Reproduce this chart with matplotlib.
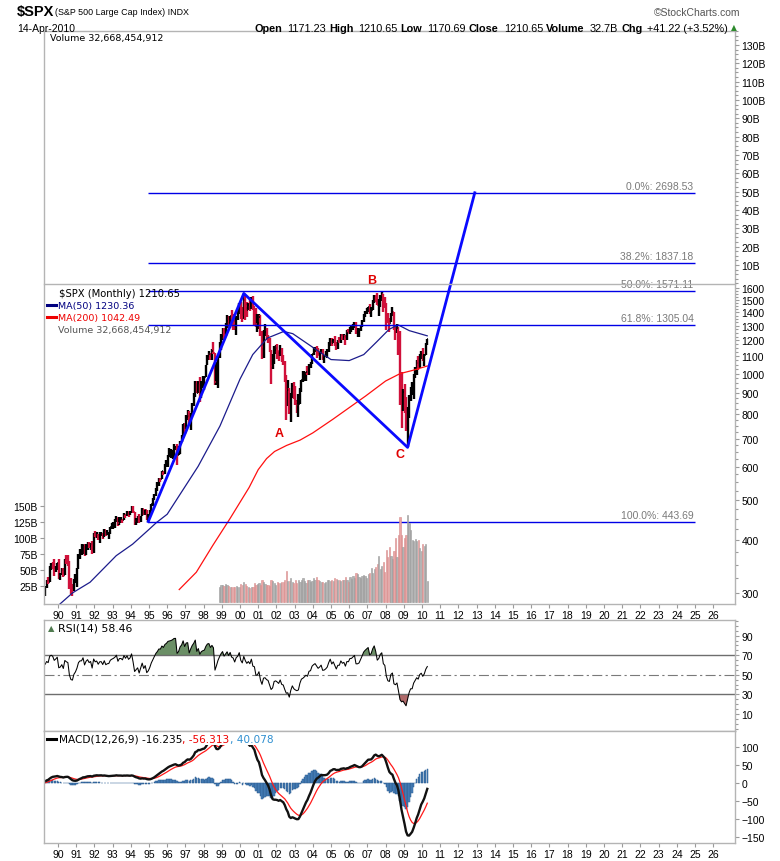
import matplotlib
matplotlib.use('Agg')
import matplotlib.pyplot as plt
import matplotlib.ticker as tk
from matplotlib.patches import Rectangle
from matplotlib.lines import Line2D
import numpy as np

plt.rcParams['font.family'] = ['Liberation Sans', 'DejaVu Sans']

# monthly closes used only to warm up the RSI / MACD (Jan 1987 - Mar 1989)
WARMUP_CLOSE = [
    274.1, 284.2, 291.7, 288.4, 290.1, 304.0, 318.7, 329.8, 321.8, 251.8, 230.3, 247.1,
    257.1, 267.8, 258.9, 261.3, 262.2, 273.5, 272.0, 261.5, 271.9, 279.0, 273.7, 277.7,
    297.5, 288.9, 294.9,
]

# monthly bars, Apr 1989 - Apr 2010
FIRST_YEAR, FIRST_MONTH = 1989, 4
CLOSE = [
    309.6, 320.5, 317.98, 346.1, 351.5, 349.2, 340.4, 345.99, 353.4,
    329.1, 331.9, 339.9, 330.8, 361.2, 358.0, 356.2, 322.6, 306.1, 304.0, 322.2, 330.2,
    343.9, 367.1, 375.2, 375.3, 389.8, 371.2, 387.8, 395.4, 387.9, 392.5, 375.2, 417.1,
    408.8, 412.7, 403.7, 414.95, 415.4, 408.1, 424.2, 414.0, 417.8, 418.7, 431.4, 435.7,
    438.8, 443.4, 451.7, 440.2, 450.2, 450.5, 448.1, 463.6, 458.9, 467.8, 461.8, 466.5,
    481.6, 467.1, 445.8, 450.9, 456.5, 444.3, 458.3, 475.5, 462.7, 472.4, 453.7, 459.3,
    470.4, 487.4, 500.7, 514.7, 533.4, 544.8, 562.1, 561.9, 584.4, 581.5, 605.4, 615.9,
    636.0, 640.4, 645.5, 654.2, 669.1, 670.6, 639.95, 651.99, 687.3, 705.3, 757.0, 740.7,
    786.2, 790.8, 757.1, 801.3, 848.3, 885.1, 954.3, 899.5, 947.3, 914.6, 955.4, 970.4,
    980.3, 1049.3, 1101.8, 1111.8, 1090.8, 1133.8, 1120.7, 957.3, 1017.0, 1098.7, 1163.6, 1229.2,
    1279.6, 1238.3, 1286.4, 1335.2, 1301.8, 1372.7, 1328.7, 1320.4, 1282.7, 1362.9, 1388.9, 1469.3,
    1394.5, 1366.4, 1498.6, 1452.4, 1420.6, 1454.6, 1430.8, 1517.7, 1436.5, 1429.4, 1315.2, 1320.3,
    1366.0, 1239.9, 1160.3, 1249.5, 1255.8, 1224.4, 1211.2, 1133.6, 1040.9, 1059.8, 1139.5, 1148.1,
    1130.2, 1106.7, 1147.4, 1076.9, 1067.1, 989.8, 911.6, 916.1, 815.3, 885.8, 936.3, 879.8,
    855.7, 841.2, 848.2, 916.9, 963.6, 974.5, 990.3, 1008.0, 996.0, 1050.7, 1058.2, 1111.9,
    1131.1, 1144.9, 1126.2, 1107.3, 1120.7, 1140.8, 1101.7, 1104.2, 1114.6, 1130.2, 1173.8, 1211.9,
    1181.3, 1203.6, 1180.6, 1156.9, 1191.5, 1191.3, 1234.2, 1220.3, 1228.8, 1207.0, 1249.5, 1248.3,
    1280.1, 1280.7, 1294.9, 1310.6, 1270.1, 1270.2, 1276.7, 1303.8, 1335.9, 1377.9, 1400.6, 1418.3,
    1438.2, 1406.8, 1420.9, 1482.4, 1530.6, 1503.4, 1455.3, 1474.0, 1526.8, 1549.4, 1481.1, 1468.4,
    1378.6, 1330.6, 1322.7, 1385.6, 1400.4, 1280.0, 1267.4, 1282.8, 1166.4, 968.8, 896.2, 903.3,
    825.9, 735.1, 797.9, 872.8, 919.1, 919.3, 987.5, 1020.6, 1057.1, 1036.2, 1095.6, 1115.1,
    1073.9, 1104.5, 1169.4, 1210.65,
]
HIGH = [
    311.0, 322.6, 328.0, 347.0, 354.1, 354.6, 360.4, 347.8, 354.1,
    360.6, 334.5, 344.5, 344.1, 361.9, 368.8, 369.8, 357.0, 326.1, 314.8, 323.0, 332.3,
    344.6, 370.5, 381.9, 391.3, 390.8, 391.5, 391.6, 395.6, 396.7, 395.2, 398.7, 417.1,
    420.8, 418.6, 413.8, 418.5, 419.0, 417.3, 425.0, 424.3, 422.5, 419.2, 431.6, 441.3,
    442.7, 449.6, 456.3, 451.6, 453.8, 453.9, 451.1, 464.3, 463.6, 470.9, 468.6, 471.0,
    482.9, 482.9, 468.0, 453.0, 457.6, 462.6, 458.5, 477.6, 476.1, 474.0, 472.9, 463.0,
    472.8, 488.3, 504.5, 515.2, 535.0, 551.1, 563.8, 564.1, 586.0, 587.0, 608.8, 622.9,
    638.5, 664.2, 660.0, 656.0, 680.6, 673.3, 677.5, 670.3, 690.9, 711.8, 758.0, 761.8,
    794.7, 817.7, 814.9, 804.1, 850.0, 898.7, 961.2, 960.3, 960.5, 983.1, 959.8, 986.3,
    985.1, 1050.0, 1105.7, 1130.5, 1121.0, 1145.2, 1190.6, 1121.0, 1066.1, 1102.0, 1192.0, 1244.9,
    1283.0, 1283.8, 1316.6, 1375.7, 1368.6, 1372.9, 1420.3, 1384.6, 1361.1, 1373.2, 1408.8, 1473.1,
    1478.0, 1444.6, 1552.9, 1527.2, 1481.5, 1474.6, 1517.3, 1525.2, 1530.1, 1448.6, 1431.8, 1389.1,
    1383.4, 1376.4, 1263.5, 1269.3, 1315.9, 1286.6, 1236.7, 1218.9, 1135.3, 1110.6, 1163.4, 1173.0,
    1176.6, 1131.0, 1173.0, 1147.8, 1106.6, 1070.7, 994.5, 965.0, 924.0, 900.7, 951.0, 954.3,
    935.1, 864.6, 895.9, 924.2, 965.4, 1015.3, 1015.4, 1011.0, 1040.3, 1053.8, 1063.7, 1112.6,
    1155.4, 1159.0, 1163.2, 1150.6, 1127.7, 1146.3, 1146.1, 1109.7, 1131.5, 1142.1, 1188.5, 1217.3,
    1217.8, 1212.2, 1229.1, 1191.9, 1199.6, 1219.6, 1245.2, 1245.9, 1243.1, 1233.3, 1270.6, 1275.8,
    1294.9, 1297.6, 1310.9, 1326.7, 1326.7, 1284.4, 1280.4, 1306.7, 1340.3, 1389.5, 1407.9, 1431.8,
    1441.6, 1461.6, 1438.9, 1498.0, 1535.6, 1540.6, 1555.9, 1503.9, 1538.7, 1576.1, 1545.1, 1523.6,
    1471.8, 1396.0, 1359.7, 1397.0, 1440.2, 1404.1, 1292.2, 1313.2, 1294.0, 1264.8, 1007.5, 918.9,
    943.9, 877.9, 833.0, 888.7, 930.2, 956.2, 996.7, 1039.5, 1080.2, 1101.4, 1113.7, 1130.4,
    1150.5, 1112.4, 1180.7, 1210.65,
]
LOW = [
    294.9, 307.4, 315.1, 318.0, 340.6, 342.8, 329.4, 336.7, 339.8,
    322.9, 322.0, 331.7, 327.6, 330.8, 351.1, 347.5, 307.1, 298.1, 294.5, 302.5, 316.0,
    309.4, 342.6, 362.0, 370.3, 371.3, 367.0, 370.2, 378.7, 383.8, 379.2, 371.9, 372.9,
    407.7, 404.9, 401.3, 394.5, 410.3, 403.5, 407.0, 411.0, 411.2, 402.7, 414.9, 425.3,
    426.9, 429.1, 441.7, 434.0, 436.0, 440.4, 441.0, 446.9, 452.9, 458.3, 455.3, 459.6,
    464.5, 464.2, 436.2, 435.9, 440.5, 441.1, 443.1, 457.3, 460.5, 460.5, 448.7, 443.7,
    457.1, 470.4, 484.6, 499.3, 510.1, 525.3, 540.0, 551.9, 559.3, 573.3, 576.3, 599.5,
    597.3, 633.7, 627.6, 624.1, 628.0, 658.3, 605.9, 639.9, 643.6, 685.6, 703.8, 716.7,
    737.0, 773.4, 756.3, 733.5, 798.0, 836.3, 881.3, 898.9, 899.1, 855.3, 876.7, 924.9,
    912.8, 980.8, 1047.0, 1076.7, 1074.9, 1077.0, 1112.4, 939.9, 939.2, 923.3, 1091.0, 1136.9,
    1205.5, 1211.9, 1231.1, 1282.7, 1277.2, 1281.4, 1328.5, 1268.9, 1268.4, 1233.7, 1342.7, 1387.4,
    1350.1, 1325.1, 1346.6, 1339.4, 1361.1, 1420.6, 1413.9, 1422.6, 1419.4, 1305.8, 1294.9, 1254.1,
    1274.6, 1228.8, 1081.2, 1091.9, 1232.0, 1203.0, 1183.3, 1124.5, 944.8, 1026.8, 1054.3, 1114.9,
    1081.7, 1074.4, 1102.4, 1063.5, 1048.4, 952.9, 775.7, 837.6, 800.2, 768.6, 872.7, 869.5,
    840.3, 806.3, 788.9, 847.9, 902.8, 952.8, 962.1, 960.8, 990.4, 994.6, 1031.2, 1053.4,
    1105.1, 1124.4, 1087.2, 1105.6, 1076.3, 1113.3, 1078.8, 1060.7, 1101.3, 1090.2, 1127.6, 1163.8,
    1163.8, 1180.6, 1163.7, 1136.2, 1146.2, 1188.3, 1183.6, 1201.1, 1201.1, 1168.2, 1201.1, 1246.6,
    1245.7, 1253.6, 1268.0, 1284.4, 1245.3, 1219.3, 1224.5, 1264.1, 1290.9, 1327.1, 1360.9, 1385.9,
    1403.9, 1389.4, 1364.0, 1416.4, 1476.7, 1484.2, 1454.3, 1370.6, 1439.3, 1489.6, 1406.1, 1435.7,
    1270.1, 1316.8, 1257.0, 1324.4, 1373.7, 1272.0, 1200.4, 1247.5, 1106.4, 839.8, 741.0, 815.7,
    804.2, 731.2, 666.8, 783.3, 858.7, 888.9, 869.3, 978.5, 992.3, 1020.2, 1029.4, 1085.9,
    1071.6, 1044.5, 1105.4, 1170.7,
]

# monthly volume in billions, Nov 1998 - Apr 2010
VOLUME_FIRST_YEAR, VOLUME_FIRST_MONTH = 1998, 11
VOLUME_B = [
    24, 27,
    27, 25, 28, 27, 25, 24, 23, 24, 23, 25, 24, 24,
    28, 26, 31, 28, 25, 24, 22, 23, 24, 30, 26, 28,
    30, 27, 34, 31, 28, 27, 26, 25, 34, 33, 29, 27,
    32, 29, 30, 32, 31, 35, 48, 33, 33, 38, 32, 29,
    34, 30, 35, 32, 34, 38, 33, 30, 34, 35, 31, 33,
    37, 34, 39, 34, 33, 32, 32, 30, 31, 34, 34, 33,
    34, 33, 38, 36, 34, 34, 33, 34, 34, 39, 35, 31,
    39, 36, 41, 37, 45, 43, 39, 37, 40, 42, 41, 37,
    44, 45, 53, 46, 51, 54, 60, 72, 52, 57, 62, 47,
    82, 70, 86, 72, 67, 80, 100, 70, 105, 133, 104, 86,
    100, 104, 136, 124, 113, 97, 95, 98, 96, 97, 84, 80,
    91, 88, 90, 32.7,
]

MA50_YEARS = [1989.29, 1990.1, 1990.8, 1991.76, 1993.2, 1994.1, 1995.0, 1995.4, 1996.0,
              1996.9, 1997.7, 1998.9, 2000.0, 2000.7, 2001.5, 2002.4, 2002.9, 2004.0,
              2005.0, 2006.0, 2006.8, 2007.5, 2008.2, 2008.7, 2009.3, 2010.29]
MA50 = [262, 282, 300, 318, 368, 392, 425, 441, 462, 531, 601, 750, 970, 1110, 1215,
        1260, 1245, 1155, 1080, 1074, 1110, 1189, 1276, 1306, 1266, 1230.36]
MA200_YEARS = [1996.66, 1997.6, 1998.5, 1999.45, 2000.5, 2001.0, 2001.46, 2001.9, 2002.56,
               2003.3, 2004.0, 2005.1, 2006.9, 2008.0, 2008.8, 2009.5, 2010.29]
MA200 = [305.5, 336, 389, 451, 535, 590, 627, 652, 674, 694, 722, 778, 884, 960, 1000,
         1018, 1042.49]

WAVE_YEARS = [1994.96, 2000.21, 2009.21, 2012.9]
WAVE_PRICES = [443.69, 1552.87, 666.79, 2698.53]
FIB_PCT = [0.0, 38.2, 50.0, 61.8, 100.0]
FIB_LEVELS = [2698.53, 1837.18, 1571.11, 1305.04, 443.69]
FIB_END_YEAR = 2025.0

LETTERS = ['A', 'B', 'C']
LETTER_YEARS = [2002.14, 2007.25, 2008.79]
LETTER_PRICES = [723, 1671, 643]

PRICE_TICKS = list(range(300, 1700, 100))
VOL_TOP_TICKS = list(range(10, 140, 10))
VOL_TICKS = [25, 50, 75, 100, 125, 150]
RSI_TICKS = [10, 30, 50, 70, 90]
MACD_TICKS = [100, 50, 0, -50, -100, -150]
YEARS = list(range(1990, 2027))

W, H = 780, 862
XLIM = (1989.23, 2027.2)
SPINE = '#b4b4b4'
BAR_RED = '#d0103a'
MA50_COLOR = '#1c1c8c'
ZIG_BLUE = '#0a0aff'
FIB_BLUE = '#0000e6'
NARROW = ['Liberation Sans Narrow', 'Liberation Sans', 'DejaVu Sans']
VERDANA = ['DejaVu Sans']


def px_rect(x0, y0, x1, y1):
    return [x0 / W, 1 - y1 / H, (x1 - x0) / W, (y1 - y0) / H]


def fig_text(x, y, s, **kw):
    kw.setdefault('va', 'center')
    return fig.text(x / W, 1 - y / H, s, **kw)


def style(a):
    for s in a.spines.values():
        s.set_color(SPINE)
        s.set_linewidth(1.0)
    a.tick_params(which='both', direction='out', colors='#9a9a9a', labelcolor='black',
                  labelsize=7.5, length=3, width=0.8, pad=1.5)
    a.tick_params(which='minor', length=2)
    a.set_xlim(*XLIM)


def year_axis(a):
    a.set_xticks(YEARS)
    a.set_xticklabels([f'{y % 100:02d}' for y in YEARS])
    a.xaxis.set_minor_locator(tk.NullLocator())


# ---- derived series ----
close = np.array(CLOSE)
high = np.array(HIGH)
low = np.array(LOW)
n = len(close)
t = FIRST_YEAR + (np.arange(n) + FIRST_MONTH - 1) / 12 + 1 / 24
prev = np.concatenate([[WARMUP_CLOSE[-1]], close[:-1]])
down = close < prev
bar_colors = np.where(down, BAR_RED, 'black')

allc = np.array(WARMUP_CLOSE + CLOSE)
diff = np.diff(allc)
gain = np.clip(diff, 0, None)
loss = np.clip(-diff, 0, None)
rsi_all = np.full(len(allc), np.nan)
ag, al = gain[:14].mean(), loss[:14].mean()
rsi_all[14] = 100 - 100 / (1 + ag / al)
for i in range(14, len(diff)):
    ag = (ag * 13 + gain[i]) / 14
    al = (al * 13 + loss[i]) / 14
    rsi_all[i + 1] = 100 - 100 / (1 + ag / al)


def ema(x, span):
    a = 2 / (span + 1)
    out = np.empty(len(x))
    out[0] = x[0]
    for i in range(1, len(x)):
        out[i] = a * x[i] + (1 - a) * out[i - 1]
    return out


macd_all = ema(allc, 12) - ema(allc, 26)
sig_all = ema(macd_all, 9)
k = len(WARMUP_CLOSE)
rsi = rsi_all[k:]
macd = macd_all[k:]
sig = sig_all[k:]
hist = macd - sig

v0 = (VOLUME_FIRST_YEAR - FIRST_YEAR) * 12 + VOLUME_FIRST_MONTH - FIRST_MONTH
vt = t[v0:v0 + len(VOLUME_B)]
vdown = down[v0:v0 + len(VOLUME_B)]

# ---- figure ----
fig = plt.figure(figsize=(W / 100, H / 100), dpi=100)
fig.patch.set_facecolor('white')

# price panel (log)
ax = fig.add_axes(px_rect(44, 32, 735, 605))
style(ax)
ax.set_yscale('log')
ax.set_ylim(282.2, 6560)
ax.yaxis.tick_right()
ax.yaxis.set_major_locator(tk.FixedLocator(PRICE_TICKS))
ax.yaxis.set_major_formatter(tk.FuncFormatter(lambda v, p: f'{v:.0f}'))
ax.yaxis.set_minor_locator(tk.FixedLocator([v for v in range(300, 1625, 25) if v % 100]))
ax.yaxis.set_minor_formatter(tk.NullFormatter())
year_axis(ax)

ax.vlines(t, low, high, colors=bar_colors, lw=1.7)
ax.hlines(close, t, t + 0.05, colors=bar_colors, lw=1.1)
ax.hlines(prev, t - 0.05, t, colors=bar_colors, lw=1.1)
ax.plot(MA50_YEARS, MA50, color=MA50_COLOR, lw=0.9)
ax.plot(MA200_YEARS, MA200, color='#ff1010', lw=0.9)
ax.hlines(FIB_LEVELS, WAVE_YEARS[0], FIB_END_YEAR, colors=FIB_BLUE, lw=1.0)
for pct, lvl in zip(FIB_PCT, FIB_LEVELS):
    ax.annotate(f'{pct:.1f}%: {lvl:.2f}', (FIB_END_YEAR, lvl), xytext=(-1, 1.5),
                textcoords='offset points', ha='right', va='bottom', color='#7a7a7a', fontsize=7.5)
ax.plot(WAVE_YEARS, WAVE_PRICES, color=ZIG_BLUE, lw=2.0)
for s, yr, pr in zip(LETTERS, LETTER_YEARS, LETTER_PRICES):
    ax.text(yr, pr, s, color='#e00000', fontweight='bold', fontsize=9, ha='center', va='center')

# upper volume scale
ax_top = fig.add_axes(px_rect(44, 32, 735, 285))
ax_top.patch.set_visible(False)
style(ax_top)
for side in ['top', 'left', 'right']:
    ax_top.spines[side].set_visible(False)
ax_top.set_ylim(-0.4, 137.6)
ax_top.set_xticks([])
ax_top.yaxis.tick_right()
ax_top.yaxis.set_major_locator(tk.FixedLocator(VOL_TOP_TICKS))
ax_top.yaxis.set_major_formatter(tk.FuncFormatter(lambda v, p: f'{v:.0f}B'))
ax_top.yaxis.set_minor_locator(tk.MultipleLocator(2.5))

# volume bars
ax_vol = fig.add_axes(px_rect(44, 32, 735, 605))
ax_vol.patch.set_visible(False)
style(ax_vol)
for s in ax_vol.spines.values():
    s.set_visible(False)
ax_vol.set_ylim(-3.1, 892)
ax_vol.set_xticks([])
ax_vol.yaxis.set_major_locator(tk.FixedLocator(VOL_TICKS))
ax_vol.yaxis.set_major_formatter(tk.FuncFormatter(lambda v, p: f'{v:.0f}B'))
ax_vol.bar(vt, VOLUME_B, width=0.068,
           color=np.where(vdown, '#eaa5a5', '#b3b3b3'),
           edgecolor=np.where(vdown, '#d68b8b', '#999999'), lw=0.4)

# RSI panel
ax_rsi = fig.add_axes(px_rect(44, 621, 735, 732))
style(ax_rsi)
ax_rsi.set_ylim(-7.4, 106)
ax_rsi.set_xticks([])
ax_rsi.yaxis.tick_right()
ax_rsi.yaxis.set_major_locator(tk.FixedLocator(RSI_TICKS))
ax_rsi.yaxis.set_minor_locator(tk.MultipleLocator(5))
ax_rsi.axhline(70, color='#6e6e6e', lw=1.0)
ax_rsi.axhline(30, color='#6e6e6e', lw=1.0)
ax_rsi.axhline(50, color='#7a7a7a', lw=0.8, ls=(0, (9, 3, 2, 3)))
ax_rsi.fill_between(t, rsi, 70, where=rsi > 70, interpolate=True, color='#6b8f66', lw=0)
ax_rsi.fill_between(t, rsi, 30, where=rsi < 30, interpolate=True, color='#b06a6a', lw=0)
ax_rsi.plot(t, rsi, color='black', lw=0.75)

# MACD panel
ax_macd = fig.add_axes(px_rect(44, 732, 735, 844))
style(ax_macd)
ax_macd.set_ylim(-168, 146)
ax_macd.yaxis.tick_right()
ax_macd.yaxis.set_major_locator(tk.FixedLocator(MACD_TICKS))
ax_macd.yaxis.set_minor_locator(tk.NullLocator())
year_axis(ax_macd)
ax_macd.bar(t, hist, width=0.075, color='#4a82bd', edgecolor='#2c5d91', lw=0.35)
ax_macd.plot(t, sig, color='#ff1a1a', lw=0.9)
ax_macd.plot(t, macd, color='#111111', lw=1.7)

# ---- texts ----
fig_text(17, 12, '$SPX', fontsize=10.5, fontweight='bold', family=NARROW)
fig_text(55, 12.5, '(S&P 500 Large Cap Index) INDX', fontsize=6.4, family=NARROW)
fig_text(740, 12.5, '\u00a9StockCharts.com', fontsize=7.5, ha='right', color='#555555', family=NARROW)
fig_text(17, 28.5, '14-Apr-2010', fontsize=7.5, family=NARROW)
fig_text(737, 28, '\u25b2', fontsize=5.5, ha='right', color='#2d8a2d', family=VERDANA)

renderer = fig.canvas.get_renderer()
pieces = [('Open', True), ('1171.23', False), ('High', True), ('1210.65', False),
          ('Low', True), ('1170.69', False), ('Close', True), ('1210.65', False),
          ('Volume', True), ('32.7B', False), ('Chg', True), ('+41.22 (+3.52%)', False)]
x = 728
for txt, bold in reversed(pieces):
    tt = fig_text(x, 28.5, txt, fontsize=7.8, ha='right', family=NARROW,
                  fontweight='bold' if bold else 'normal')
    bb = tt.get_window_extent(renderer)
    x = bb.x0 - (3 if bold else 5)

fig_text(50, 38, 'Volume 32,668,454,912', fontsize=6.8, family=VERDANA)
fig_text(59, 294, '$SPX (Monthly) 1210.65', fontsize=7.2, family=VERDANA)
fig_text(58, 306, 'MA(50) 1230.36', fontsize=6.8, color='#000080', family=VERDANA)
fig_text(58, 318, 'MA(200) 1042.49', fontsize=6.8, color='#ee0000', family=VERDANA)
fig_text(58, 330, 'Volume 32,668,454,912', fontsize=6.8, color='#555555', family=VERDANA)
for yy, col in [(306, '#000080'), (318, '#ee0000')]:
    fig.add_artist(Line2D([47 / W, 56 / W], [1 - yy / H] * 2, color=col, lw=2.2,
                          transform=fig.transFigure))

fig_text(48, 629, '\u25b2', fontsize=6, color='#4f7a4f', family=VERDANA)
fig_text(58, 629, 'RSI(14) 58.46', fontsize=7.8, family=VERDANA)

fig.add_artist(Rectangle((46 / W, 1 - 746 / H), 250 / W, 12 / H, transform=fig.transFigure,
                         facecolor='white', edgecolor='none', zorder=1))
fig.add_artist(Line2D([47 / W, 56 / W], [1 - 740 / H] * 2, color='black', lw=2.2,
                      transform=fig.transFigure, zorder=2))
mx = 59
for txt, col in [('MACD(12,26,9) -16.235', 'black'), (', -56.313', '#ee0000'), (', 40.078', '#2f8fd0')]:
    tt = fig_text(mx, 740, txt, fontsize=7.6, color=col, family=VERDANA)
    mx = tt.get_window_extent(renderer).x1

fig.savefig('out.png', dpi=100)
